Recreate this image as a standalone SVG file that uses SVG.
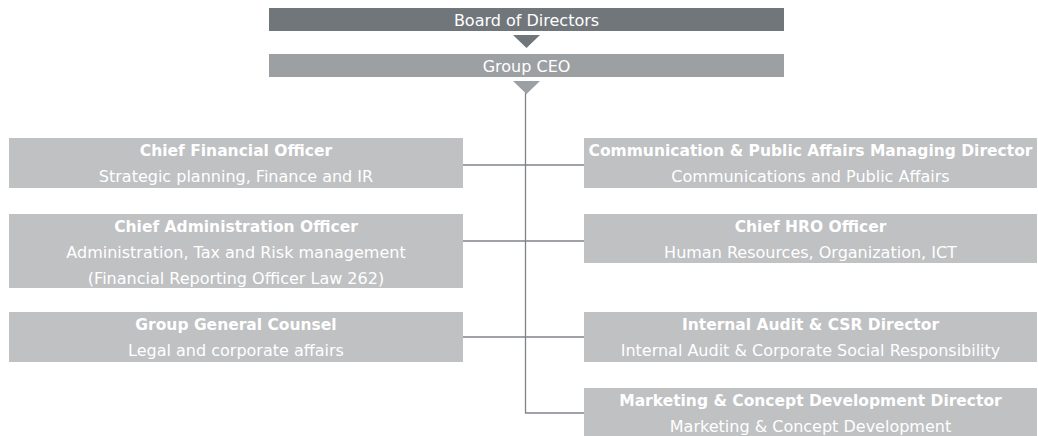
<svg xmlns="http://www.w3.org/2000/svg" width="1038" height="436" viewBox="0 0 1038 436">
  <style>
    text { font-family: "DejaVu Sans", "Liberation Sans", sans-serif; fill: #ffffff; text-anchor: middle; font-size: 16px; }
    .t { font-weight: bold; font-size: 15.5px; }
    .box { fill: #bfc1c3; }
    .board { fill: #71767b; }
    .ceo { fill: #9da0a3; }
    .link { stroke: #7f8388; stroke-width: 1.3; fill: none; }
  </style>

  <!-- top of the hierarchy -->
  <g id="board">
    <rect class="board" x="269" y="8" width="515" height="23"/>
    <text x="526.5" y="25.5">Board of Directors</text>
  </g>
  <g id="ceo">
    <rect class="ceo" x="269" y="54" width="515" height="23"/>
    <text x="526.5" y="71.5">Group CEO</text>
  </g>

  <!-- connectors: arrows, trunk and branches -->
  <g id="connectors">
    <polygon class="board" points="513,35 540,35 526.5,48"/>
    <polygon class="ceo" points="513,81 540,81 526.5,94"/>
    <line class="link" x1="525.5" y1="93" x2="525.5" y2="413.5"/>
    <line class="link" x1="463" y1="165" x2="584" y2="165"/>
    <line class="link" x1="463" y1="241" x2="584" y2="241"/>
    <line class="link" x1="463" y1="337" x2="584" y2="337"/>
    <line class="link" x1="525.5" y1="413" x2="584" y2="413"/>
  </g>

  <!-- left column -->
  <g id="cfo">
    <rect class="box" x="9" y="138" width="454" height="50"/>
    <text class="t" x="236" y="156">Chief Financial Officer</text>
    <text x="236" y="182">Strategic planning, Finance and IR</text>
  </g>
  <g id="cao">
    <rect class="box" x="9" y="214" width="454" height="74"/>
    <text class="t" x="236" y="232">Chief Administration Officer</text>
    <text x="236" y="258">Administration, Tax and Risk management</text>
    <text x="236" y="283.5">(Financial Reporting Officer Law 262)</text>
  </g>
  <g id="counsel">
    <rect class="box" x="9" y="312" width="454" height="50"/>
    <text class="t" x="236" y="330">Group General Counsel</text>
    <text x="236" y="356">Legal and corporate affairs</text>
  </g>

  <!-- right column -->
  <g id="communication">
    <rect class="box" x="584" y="138" width="453" height="50"/>
    <text class="t" x="810.5" y="156">Communication &amp; Public Affairs Managing Director</text>
    <text x="810.5" y="182">Communications and Public Affairs</text>
  </g>
  <g id="hro">
    <rect class="box" x="584" y="214" width="453" height="49"/>
    <text class="t" x="810.5" y="232">Chief HRO Officer</text>
    <text x="810.5" y="258">Human Resources, Organization, ICT</text>
  </g>
  <g id="audit">
    <rect class="box" x="584" y="312" width="453" height="50"/>
    <text class="t" x="810.5" y="330">Internal Audit &amp; CSR Director</text>
    <text x="810.5" y="356">Internal Audit &amp; Corporate Social Responsibility</text>
  </g>
  <g id="marketing">
    <rect class="box" x="584" y="388" width="453" height="48"/>
    <text class="t" x="810.5" y="406">Marketing &amp; Concept Development Director</text>
    <text x="810.5" y="432">Marketing &amp; Concept Development</text>
  </g>
</svg>
